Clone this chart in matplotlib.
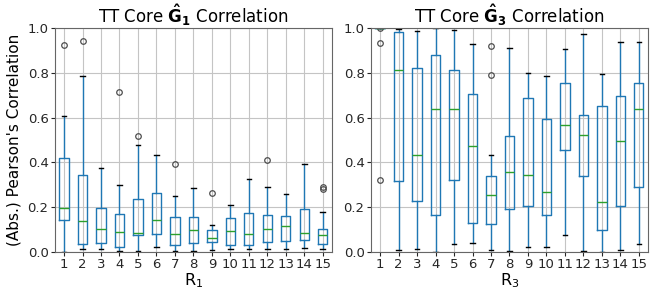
import matplotlib
matplotlib.use('Agg')
import matplotlib.pyplot as plt

# rank labels on the x axis
ranks = list(range(1, 16))

# core G1 box stats
g1_q1 = [0.145, 0.036, 0.042, 0.024, 0.075, 0.079, 0.033, 0.040, 0.046, 0.033, 0.033, 0.043, 0.048, 0.055, 0.036]
g1_med = [0.198, 0.140, 0.104, 0.091, 0.087, 0.145, 0.079, 0.098, 0.064, 0.092, 0.080, 0.101, 0.116, 0.087, 0.076]
g1_q3 = [0.418, 0.346, 0.197, 0.172, 0.237, 0.264, 0.157, 0.157, 0.098, 0.152, 0.176, 0.166, 0.161, 0.192, 0.104]
g1_lo = [0.0, 0.012, 0.012, 0.006, 0.003, 0.021, 0.003, 0.003, 0.007, 0.015, 0.012, 0.012, 0.012, 0.018, 0.012]
g1_hi = [0.606, 0.788, 0.374, 0.300, 0.476, 0.432, 0.252, 0.286, 0.119, 0.212, 0.324, 0.292, 0.261, 0.395, 0.177]
g1_fliers = [[0.925], [0.942], [], [0.714], [0.516], [], [0.392], [], [0.264], [], [], [0.413], [], [], [0.289, 0.280]]

# core G3 box stats
g3_q1 = [0.9995, 0.317, 0.229, 0.165, 0.320, 0.129, 0.125, 0.190, 0.204, 0.165, 0.454, 0.339, 0.100, 0.205, 0.291]
g3_med = [0.9995, 0.815, 0.433, 0.638, 0.638, 0.473, 0.253, 0.357, 0.344, 0.269, 0.567, 0.524, 0.225, 0.498, 0.638]
g3_q3 = [0.9995, 0.982, 0.824, 0.881, 0.814, 0.704, 0.338, 0.520, 0.686, 0.595, 0.754, 0.610, 0.650, 0.699, 0.757]
g3_lo = [0.9995, 0.010, 0.015, 0.002, 0.038, 0.041, 0.010, 0.006, 0.022, 0.022, 0.076, 0.003, 0.002, 0.010, 0.034]
g3_hi = [0.9995, 0.998, 0.985, 1.000, 0.990, 0.931, 0.433, 0.910, 0.800, 0.786, 0.909, 0.973, 0.796, 0.940, 0.940]
g3_fliers = [[1.0, 0.933, 0.321], [], [], [], [], [], [0.922, 0.790], [], [], [], [], [], [], [], []]


def make_stats(q1, med, q3, lo, hi, fl):
    out = []
    for i in range(len(q1)):
        out.append({'q1': q1[i], 'med': med[i], 'q3': q3[i],
                    'whislo': lo[i], 'whishi': hi[i], 'fliers': fl[i]})
    return out


fig, (ax1, ax2) = plt.subplots(1, 2, figsize=(6.6, 2.9), dpi=100)
fig.subplots_adjust(left=0.083, right=0.982, top=0.903, bottom=0.131, wspace=0.14)

panels = [
    (ax1, make_stats(g1_q1, g1_med, g1_q3, g1_lo, g1_hi, g1_fliers), r'TT Core $\mathbf{\hat{G}_1}$ Correlation', r'R$_1$'),
    (ax2, make_stats(g3_q1, g3_med, g3_q3, g3_lo, g3_hi, g3_fliers), r'TT Core $\mathbf{\hat{G}_3}$ Correlation', r'R$_3$'),
]

for ax, stats, title, xlab in panels:
    ax.bxp(stats, positions=ranks, widths=0.5,
           boxprops=dict(color='#1f77b4'),
           whiskerprops=dict(color='#1f77b4'),
           capprops=dict(color='black'),
           medianprops=dict(color='#2ca02c'),
           flierprops=dict(marker='o', markerfacecolor='none', markeredgecolor='0.3',
                           markersize=4, markeredgewidth=0.9))
    ax.set_xlim(0.5, 15.5)
    ax.set_ylim(0, 1.0)
    ax.set_yticks([0.0, 0.2, 0.4, 0.6, 0.8, 1.0])
    ax.set_xticks(ranks)
    ax.set_xticklabels([str(r) for r in ranks])
    ax.grid(True, color='#c4c4c4', linewidth=0.8)
    ax.set_axisbelow(True)
    for s in ax.spines.values():
        s.set_color('0.4')
    ax.tick_params(labelsize=9.5, colors='0.15', length=3, pad=1.5)
    ax.set_title(title, fontsize=12, pad=4)
    ax.set_xlabel(xlab, fontsize=11.5, labelpad=0)

ax1.set_ylabel("(Abs.) Pearson's Correlation", fontsize=11, labelpad=4)

fig.savefig('out.png', dpi=100)
